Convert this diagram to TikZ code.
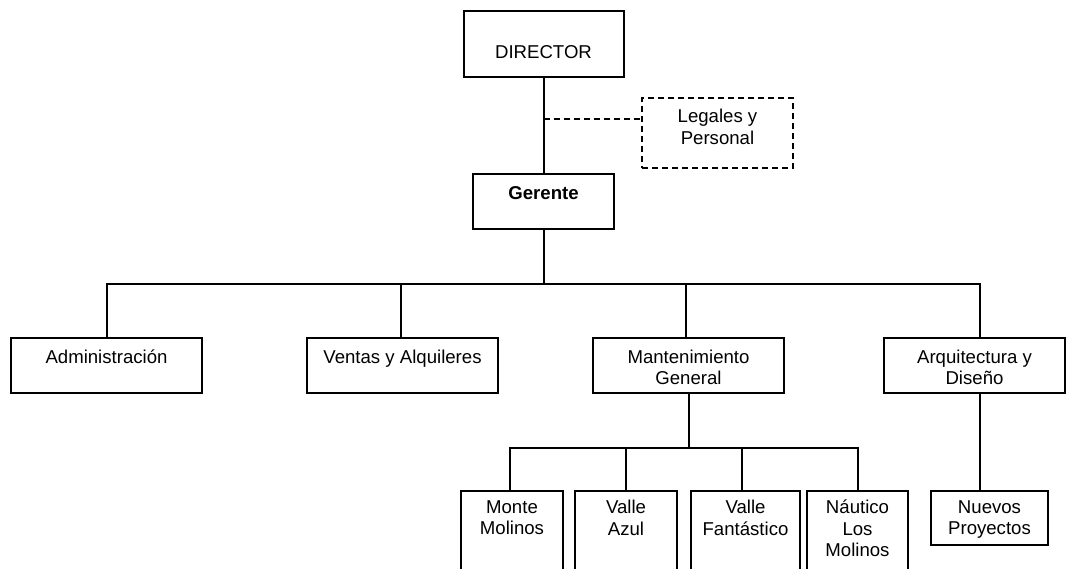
\documentclass[tikz,border=0pt]{standalone}
\usepackage{fontspec}
\setmainfont{Liberation Sans}
\begin{document}
\begin{tikzpicture}[x=1pt,y=-1pt,
  box/.style={draw=black,line width=2pt,rectangle,inner sep=0pt},
  dbox/.style={box,dash pattern=on 6pt off 4pt},
  txt/.style={align=center,inner sep=0pt,font=\fontsize{18.6}{21.5}\selectfont,
    execute at begin node=\strut,execute at end node=\strut},
  conn/.style={draw=black,line width=2pt},
  dconn/.style={conn,dash pattern=on 6pt off 4pt}]
\useasboundingbox (0,0) rectangle (1067,569);
\clip (0,0) rectangle (1067,569);
% top level
\node[box,minimum width=160,minimum height=66] (dir) at (543.5,44) {};
\node[txt] (dirT) at (543.5,54.3) {DIRECTOR};
\node[dbox,minimum width=151,minimum height=70] (leg) at (717.5,133) {};
\node[txt] (legT) at (717.5,129.8) {Legales y\\Personal};
\node[box,minimum width=141,minimum height=55] (ger) at (543.5,201.5) {};
\node[txt,font=\fontsize{18.6}{21.5}\selectfont\bfseries] (gerT) at (543.5,195.3) {Gerente};
% second level
\node[box,minimum width=191,minimum height=55] (adm) at (106.5,365.5) {};
\node[txt] (admT) at (106.5,359.3) {Administración};
\node[box,minimum width=191,minimum height=55] (ven) at (402.5,365.5) {};
\node[txt] (venT) at (402.5,359.3) {Ventas y Alquileres};
\node[box,minimum width=191,minimum height=55] (man) at (688.5,365.5) {};
\node[txt] (manT) at (688.5,370.3) {Mantenimiento\\General};
\node[box,minimum width=181,minimum height=55] (arq) at (974.5,365.5) {};
\node[txt] (arqT) at (974.5,370.3) {Arquitectura y\\Diseño};
% third level
\node[box,minimum width=102,minimum height=100] (mon) at (512,541) {};
\node[txt] (monT) at (512,520.8) {Monte\\Molinos};
\node[box,minimum width=102,minimum height=100] (azu) at (626,541) {};
\node[txt] (azuT) at (626,520.8) {Valle\\Azul};
\node[box,minimum width=109,minimum height=100] (fan) at (745.5,541) {};
\node[txt] (fanT) at (745.5,520.8) {Valle\\Fantástico};
\node[box,minimum width=101,minimum height=100] (nau) at (857.5,541) {};
\node[txt] (nauT) at (857.5,531.8) {Náutico\\Los\\Molinos};
\node[box,minimum width=117,minimum height=54] (nue) at (989.5,518) {};
\node[txt] (nueT) at (989.5,520.8) {Nuevos\\Proyectos};
% connectors
\coordinate (dj) at (543.5,119);
\coordinate (bus) at (543.5,284);
\coordinate (bus2) at (688.5,448);
\draw[conn] (dir.south) -- (ger.north);
\draw[dconn] (dj) -- (leg.west |- dj);
\draw[conn] (ger.south) -- (bus);
\draw[conn] ([xshift=0.5pt]adm.north) |- (bus) -| ([xshift=5.5pt]arq.north);
\draw[conn] ([xshift=-1.5pt]ven.north) -- ++(0,-54);
\draw[conn] ([xshift=-2.5pt]man.north) -- ++(0,-54);
\draw[conn] (man.south) -- (bus2);
\draw[conn] ([xshift=-2pt]mon.north) |- (bus2) -| (nau.north);
\draw[conn] (azu.north) -- ++(0,-43);
\draw[conn] ([xshift=-3.5pt]fan.north) -- ++(0,-43);
\draw[conn] ([xshift=5.5pt]arq.south) -- ([xshift=-9.5pt]nue.north);
\end{tikzpicture}
\end{document}
